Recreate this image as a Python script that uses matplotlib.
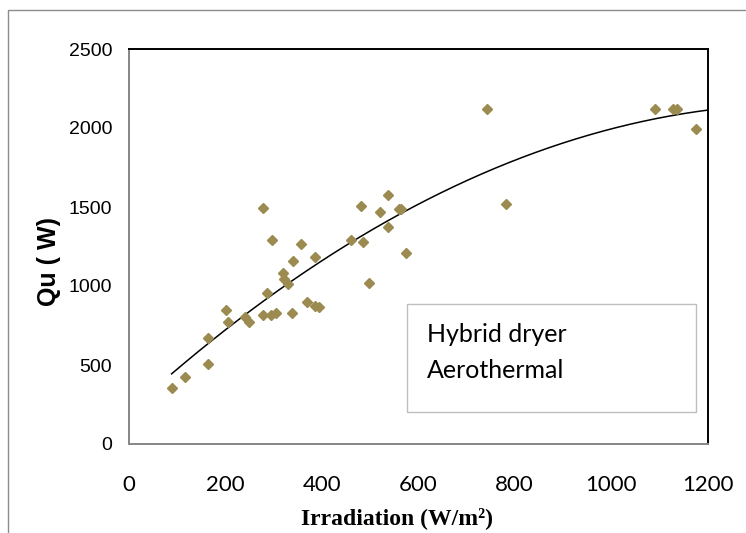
import numpy as np
import matplotlib
matplotlib.use('Agg')
import matplotlib.pyplot as plt
from matplotlib.patches import Rectangle

# Irradiation (W/m2) and useful heat Qu (W)
irradiation = [89, 117, 165, 165, 202, 205, 241, 249, 278, 278,
               286, 294, 298, 305, 320, 323, 331, 338, 341, 357,
               369, 386, 387, 395, 461, 482, 486, 498, 521, 538,
               538, 561, 565, 574, 742, 782, 1091, 1128, 1136, 1176]
qu = [352, 422, 669, 506, 848, 774, 806, 774, 1496, 816,
      954, 816, 1291, 831, 1080, 1044, 1013, 831, 1158, 1266,
      897, 1182, 873, 869, 1291, 1508, 1277, 1021, 1466, 1578,
      1372, 1485, 1485, 1211, 2118, 1521, 2118, 2118, 2118, 1996]

x_ticks = [0, 200, 400, 600, 800, 1000, 1200]
y_ticks = [0, 500, 1000, 1500, 2000, 2500]
legend_lines = ['Hybrid dryer', 'Aerothermal']

fig = plt.figure(figsize=(7.46, 5.33), dpi=100)
ax = fig.add_axes([128.7 / 746, 1 - 444 / 533, (707.5 - 128.7) / 746, (444 - 49) / 533])

ax.plot(irradiation, qu, linestyle='none', marker='D', markersize=5.2,
        color='#9B8B50', zorder=3)

# 2nd order polynomial trendline, as in the spreadsheet
coef = np.polyfit(irradiation, qu, 2)
xs = np.linspace(min(irradiation), 1200, 200)
ax.plot(xs, np.polyval(coef, xs), color='black', linewidth=1.1, zorder=2)

ax.set_xlim(0, 1200)
ax.set_ylim(0, 2500)
ax.set_xticks(x_ticks)
ax.set_yticks(y_ticks)
ax.tick_params(axis='both', length=0)
ax.tick_params(axis='x', pad=22)
ax.tick_params(axis='y', pad=12)
for lab in ax.get_xticklabels():
    lab.set_fontfamily('Lato')
    lab.set_fontsize(16)
for lab in ax.get_yticklabels():
    lab.set_fontfamily('Liberation Sans')
    lab.set_fontsize(14)

for side in ['top', 'right']:
    ax.spines[side].set_color('black')
    ax.spines[side].set_linewidth(1.4)
for side in ['left', 'bottom']:
    ax.spines[side].set_color('#868686')
    ax.spines[side].set_linewidth(1.4)

# text box
ax.add_patch(Rectangle((407.3 / 746, 1 - 411.7 / 533), (696 - 407.3) / 746,
                       (411.7 - 304.3) / 533, transform=fig.transFigure,
                       facecolor='white', edgecolor='#BFBFBF', linewidth=1.0,
                       zorder=4))
fig.text(426.7 / 746, 1 - 335 / 533, legend_lines[0], fontfamily='Lato',
         fontsize=18, va='center', ha='left', zorder=5)
fig.text(426.7 / 746, 1 - 370 / 533, legend_lines[1], fontfamily='Lato',
         fontsize=18, va='center', ha='left', zorder=5)

fig.text(49.3 / 746, 1 - 262 / 533, 'Qu ( W)', rotation=90, fontfamily='Liberation Sans',
         fontweight='bold', fontsize=18, va='center', ha='center')
fig.text(397 / 746, 1 - 518 / 533, 'Irradiation (W/m²)', fontfamily='Liberation Serif',
         fontweight='bold', fontsize=17, va='center', ha='center')

# outer chart frame, cut off at right and bottom
fig.patches.append(Rectangle((8 / 746, -0.05), 1.2, 1 - 10 / 533 + 0.05,
                             transform=fig.transFigure, fill=False,
                             edgecolor='#8C8C8C', linewidth=1.0))

fig.savefig('out.png', dpi=100)
